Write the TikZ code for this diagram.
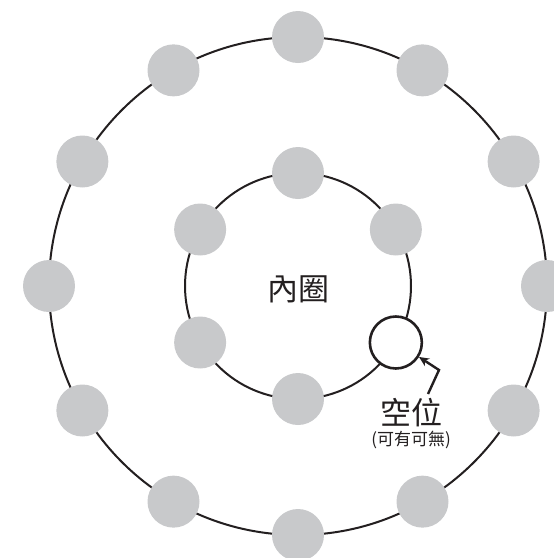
\documentclass[tikz,border=0pt]{standalone}
\usepackage{fontspec}
\newfontfamily\cjk{Noto Sans CJK TC}
\usetikzlibrary{arrows.meta,calc}
\definecolor{ink}{HTML}{231F20}
\definecolor{dotgray}{HTML}{C8C9CB}
\tikzset{
  ring/.style={draw=ink, line width=2pt},
  dot/.style={circle, fill=dotgray, minimum size=52pt, inner sep=0pt},
  emptydot/.style={circle, draw=ink, line width=2.6pt, fill=white, minimum size=52pt, inner sep=0pt},
  pointer/.style={draw=ink, line width=2.4pt, -{Stealth[length=10pt,width=9pt]}},
  bigtext/.style={font=\cjk\fontsize{31}{34}\selectfont, text=ink, inner sep=0pt},
  smalltext/.style={font=\cjk\fontsize{17}{19}\selectfont, text=ink, inner sep=0pt}
}
\begin{document}
\begin{tikzpicture}[x=1pt,y=-1pt]
\useasboundingbox (0,0) rectangle (554,558);
\coordinate (c) at (298,286);
\draw[ring] (c) circle (249pt);
\draw[ring] (c) circle (113pt);
% outer ring dots
\foreach \i in {0,...,11}{
  \pgfmathsetmacro{\a}{-90+30*\i}
  \node[dot] (o\i) at ($(298,286)+({249*cos(\a)},{249*sin(\a)})$) {};
}
% inner ring dots
\foreach \i/\a in {1/-90,2/-30,4/90,5/150,6/210}{
  \node[dot] (in\i) at ($(298,286)+({113*cos(\a)},{113*sin(\a)})$) {};
}
\node[emptydot] (vac) at ($(298,286)+({113*cos(30)},{113*sin(30)})$) {};
\node[bigtext] (inner) at (298,289) {內圈};
\node[bigtext] (vlabel) at (411,413) {空位};
\node[smalltext] (vnote) at (411,440) {(可有可無)};
\coordinate (ps) at (428,394);
\coordinate (pb) at (439,370);
\draw[pointer] (ps) -- (pb) -- (vac.-32);
\end{tikzpicture}
\end{document}
